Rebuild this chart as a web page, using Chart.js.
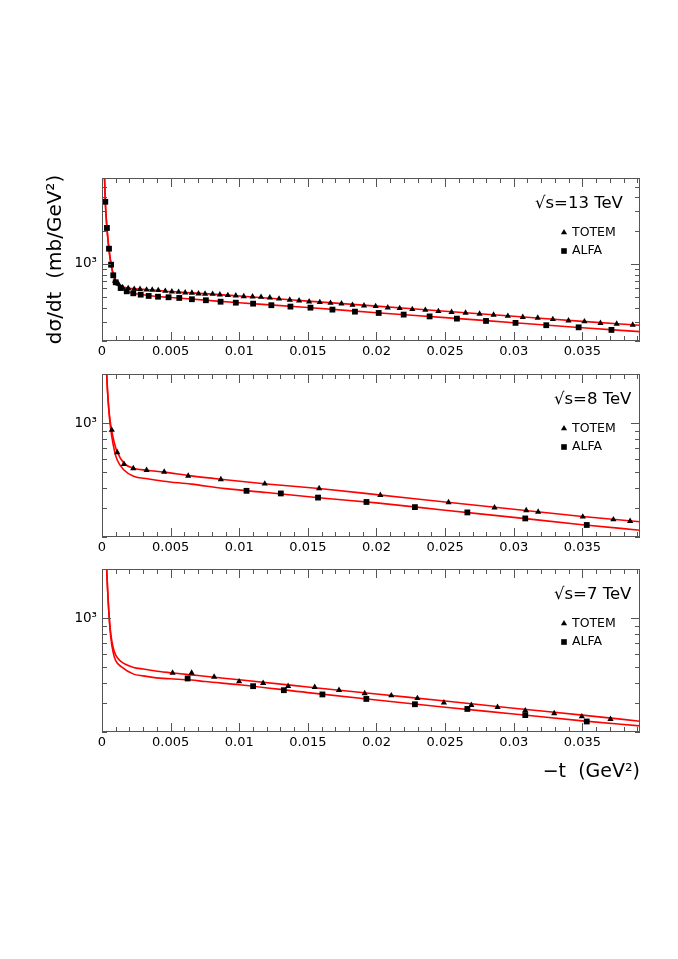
<!DOCTYPE html>
<html>
<head>
<meta charset="utf-8">
<script src="https://cdn.jsdelivr.net/npm/chart.js@4.4.1/dist/chart.umd.min.js"></script>
<style>
  body { margin: 0; background: #fff; }
  #page { position: relative; width: 678px; height: 959px; background: #fff; }
  canvas { position: absolute; left: 0; }
</style>
</head>
<body>
<div id="page">
  <canvas id="c13" width="678" height="222" style="top:150px"></canvas>
  <canvas id="c8" width="678" height="218" style="top:350px"></canvas>
  <canvas id="c7" width="678" height="255" style="top:545px"></canvas>
</div>
<script>
// axis ticks
const xMajorTicks = [0, 0.005, 0.01, 0.015, 0.02, 0.025, 0.03, 0.035];
const xTickLabels = ['0', '0.005', '0.01', '0.015', '0.02', '0.025', '0.03', '0.035'];
const yLogTicks = [200, 300, 400, 500, 600, 700, 800, 900, 1000, 2000, 3000, 4000, 5000, 6000];

// sqrt(s) = 13 TeV
const tTotem13 = [0.00095, 0.0012, 0.00148, 0.00191, 0.00235, 0.00277, 0.00325, 0.00366, 0.0041, 0.00461,
  0.00509, 0.00558, 0.00606, 0.00655, 0.00703, 0.00751, 0.00806, 0.00859, 0.00917, 0.00975,
  0.01033, 0.01097, 0.01159, 0.01223, 0.0129, 0.01368, 0.01436, 0.01509, 0.01587, 0.01665,
  0.01745, 0.01825, 0.01909, 0.01994, 0.02082, 0.02169, 0.02261, 0.02356, 0.02451, 0.02547,
  0.02649, 0.02751, 0.02853, 0.02957, 0.03066, 0.03175, 0.03285, 0.03399, 0.03515, 0.03632,
  0.0375, 0.03867];
const dsTotem13 = [699, 657, 613, 601, 592, 590, 583, 580, 576, 567,
  560, 556, 548, 545, 537, 535, 533, 526, 519, 515,
  508, 504, 501, 494, 483, 471, 464, 454, 449, 442,
  436, 424, 418, 413, 401, 396, 388, 382, 372, 365,
  359, 352, 345, 337, 329, 324, 315, 306, 300, 290,
  286, 280];
const tAlfa13 = [0.00024, 0.00036, 0.00051, 0.00066, 0.00082, 0.001, 0.00136, 0.0018, 0.00228, 0.00282,
  0.0034, 0.00408, 0.00485, 0.00563, 0.00655, 0.00757, 0.00864, 0.00975, 0.01101, 0.01234,
  0.01373, 0.01519, 0.01679, 0.01843, 0.02016, 0.02198, 0.02387, 0.02586, 0.02798, 0.03013,
  0.03237, 0.03473, 0.03712];
const dsAlfa13 = [3655, 2116, 1373, 983, 788, 681, 604, 564, 541, 526,
  512, 504, 498, 491, 478, 468, 454, 445, 436, 422,
  410, 401, 385, 369, 359, 347, 334, 319, 304, 292,
  278, 266, 252];
const tFit13 = [0.00015, 0.00018, 0.00024, 0.00036, 0.0005, 0.00066, 0.00082, 0.001, 0.0013, 0.0017,
  0.0022, 0.003, 0.004, 0.005, 0.0075, 0.01, 0.0125, 0.015, 0.02, 0.025, 0.03, 0.035, 0.0392];
const fitTotem13 = [9000, 6300, 3660, 2130, 1390, 1000, 815, 705, 638, 610,
  597, 587, 576, 561, 537, 511, 485, 460, 414, 372, 335, 301, 278];
const fitAlfa13 = [9000, 6300, 3655, 2116, 1375, 985, 790, 682, 608, 571,
  545, 525, 507, 496, 469, 444, 423, 402, 361, 326, 293, 264, 243];

// sqrt(s) = 8 TeV
const tTotem8 = [0.00071, 0.00111, 0.0016, 0.00228, 0.00325, 0.00453, 0.00628, 0.00866, 0.01186, 0.01582,
  0.02028, 0.02525, 0.0286, 0.03091, 0.03178, 0.03503, 0.03726, 0.03848];
const dsTotem8 = [906, 661, 560, 527, 514, 502, 474, 451, 424, 397,
  361, 326, 303, 291, 285, 266, 256, 250];
const tAlfa8 = [0.01053, 0.01303, 0.01574, 0.01927, 0.0228, 0.02662, 0.03084, 0.03532];
const dsAlfa8 = [384, 370, 349, 328, 305, 283, 260, 237];
const tFit8 = [0.0003, 0.00034, 0.0004, 0.0005, 0.0006, 0.0007, 0.0009, 0.0011, 0.0016, 0.0023,
  0.0033, 0.0045, 0.0065, 0.009, 0.012, 0.016, 0.02, 0.025, 0.03, 0.035, 0.0392];
const fitTotem8 = [2400, 2000, 1600, 1220, 1020, 905, 755, 668, 568, 528,
  513, 500, 474, 449, 423, 395, 364, 328, 296, 267, 248];
const fitAlfa8 = [2400, 2000, 1580, 1190, 970, 840, 680, 595, 515, 472,
  455, 440, 422, 396, 375, 347, 324, 292, 264, 238, 220];

// sqrt(s) = 7 TeV
const tTotem7 = [0.00514, 0.00653, 0.00817, 0.00999, 0.01174, 0.01356, 0.0155, 0.01727, 0.01914, 0.02108,
  0.02298, 0.02491, 0.02691, 0.02882, 0.03084, 0.03295, 0.03496, 0.03705];
const dsTotem7 = [461, 461, 436, 408, 399, 382, 377, 361, 345, 335,
  322, 303, 292, 284, 271, 260, 249, 240];
const tAlfa7 = [0.00624, 0.01101, 0.01325, 0.01606, 0.01926, 0.0228, 0.02662, 0.03084, 0.03532];
const dsAlfa7 = [426, 382, 361, 340, 319, 296, 277, 254, 232];
const tFit7 = [0.0003, 0.00034, 0.0004, 0.00053, 0.00065, 0.00082, 0.001, 0.0014, 0.0023, 0.003,
  0.0042, 0.005, 0.0065, 0.0075, 0.01, 0.015, 0.02, 0.025, 0.03, 0.035, 0.0392];
const fitTotem7 = [2500, 2000, 1550, 1000, 790, 655, 592, 540, 498, 487,
  470, 462, 448, 440, 418, 378, 342, 310, 280, 254, 233];
const fitAlfa7 = [2500, 2000, 1540, 985, 750, 612, 548, 503, 453, 442,
  428, 424, 417, 408, 390, 349, 314, 284, 258, 234, 218];

Chart.defaults.font.family = '"DejaVu Sans", sans-serif';
Chart.defaults.color = '#000';

const FRAME = '#555';

function pts(xs, ys) {
  return xs.map((x, i) => ({x: x, y: ys[i]}));
}

function isMajorX(v) {
  return xMajorTicks.some(m => Math.abs(m - v) < 1e-9);
}

// ROOT style frame: ticks pointing inward on all four sides
const frameTicks = {
  id: 'frameTicks',
  afterDraw(chart) {
    const {ctx, chartArea: a} = chart;
    const x = chart.scales.x, y = chart.scales.y;
    ctx.save();
    ctx.strokeStyle = FRAME;
    ctx.lineWidth = 1;
    ctx.beginPath();
    x.ticks.forEach(t => {
      const px = Math.round(x.getPixelForValue(t.value)) + 0.5;
      const len = isMajorX(t.value) ? 9 : 5;
      ctx.moveTo(px, a.bottom); ctx.lineTo(px, a.bottom - len);
      ctx.moveTo(px, a.top); ctx.lineTo(px, a.top + len);
    });
    y.ticks.forEach(t => {
      const py = Math.round(y.getPixelForValue(t.value)) + 0.5;
      const len = t.value === 1000 ? 9 : 5;
      ctx.moveTo(a.left, py); ctx.lineTo(a.left + len, py);
      ctx.moveTo(a.right, py); ctx.lineTo(a.right - len, py);
    });
    ctx.stroke();
    ctx.strokeRect(a.left + 0.5, a.top + 0.5, a.width - 1, a.height - 1);
    ctx.restore();
  }
};

const panelLegend = {
  id: 'panelLegend',
  afterDraw(chart, args, opts) {
    const {ctx, chartArea: a} = chart;
    ctx.save();
    ctx.fillStyle = '#000';
    ctx.textBaseline = 'middle';
    ctx.textAlign = 'left';
    ctx.font = '16.5px "DejaVu Sans"';
    ctx.fillText(opts.energy, opts.energyX, a.top + 26);

    const mx = a.right - 76;
    const ty = a.top + 54.5, sy = a.top + 73;
    ctx.beginPath();
    ctx.moveTo(mx, ty - 3.6);
    ctx.lineTo(mx + 3.1, ty + 1.8);
    ctx.lineTo(mx - 3.1, ty + 1.8);
    ctx.closePath();
    ctx.fill();
    ctx.fillRect(mx - 2.8, sy - 2.8, 5.6, 5.6);

    ctx.font = '12.5px "DejaVu Sans"';
    ctx.fillText('TOTEM', a.right - 68, ty);
    ctx.fillText('ALFA', a.right - 68, sy);
    ctx.restore();
  }
};

function makePanel(id, p) {
  return new Chart(document.getElementById(id), {
    type: 'scatter',
    data: {
      datasets: [
        {
          label: 'TOTEM', data: pts(p.tTotem, p.dsTotem), order: 0,
          pointStyle: 'triangle', pointRadius: 3.6, pointBorderWidth: 0,
          backgroundColor: '#000', borderColor: '#000'
        },
        {
          label: 'ALFA', data: pts(p.tAlfa, p.dsAlfa), order: 0,
          pointStyle: 'rect', pointRadius: 4.1, pointBorderWidth: 0,
          backgroundColor: '#000', borderColor: '#000'
        },
        {
          label: 'fit TOTEM', data: pts(p.tFit, p.fitTotem), order: 1,
          showLine: true, pointRadius: 0, borderColor: '#ff0000', borderWidth: 1.6,
          cubicInterpolationMode: 'monotone', fill: false
        },
        {
          label: 'fit ALFA', data: pts(p.tFit, p.fitAlfa), order: 1,
          showLine: true, pointRadius: 0, borderColor: '#ff0000', borderWidth: 1.6,
          cubicInterpolationMode: 'monotone', fill: false
        }
      ]
    },
    options: {
      responsive: false,
      animation: false,
      events: [],
      layout: {padding: {left: 0, right: 38, top: p.padTop, bottom: 0}},
      plugins: {
        legend: {display: false},
        tooltip: {enabled: false},
        panelLegend: {energy: p.energy, energyX: p.energyX}
      },
      scales: {
        x: {
          type: 'linear', min: 0, max: 0.0392,
          grid: {display: false, drawTicks: false},
          border: {display: false},
          afterBuildTicks: (scale) => {
            const ticks = [];
            for (let i = 0; i <= 39; i++) ticks.push({value: i / 1000});
            scale.ticks = ticks;
          },
          afterFit: (scale) => { scale.height = p.xHeight; },
          ticks: {
            autoSkip: false, maxRotation: 0, padding: 3,
            font: {size: 13}, color: '#000',
            callback: (v) => {
              const i = xMajorTicks.findIndex(m => Math.abs(m - v) < 1e-9);
              return i >= 0 ? xTickLabels[i] : '';
            }
          },
          title: p.xTitle ? {
            display: true, text: '\u2212t  (GeV\u00b2)', align: 'end', color: '#000',
            font: {size: 19}, padding: {top: 0, bottom: 16.5}
          } : {display: false}
        },
        y: {
          type: 'logarithmic', min: 200, max: p.yMax,
          grid: {display: false, drawTicks: false},
          border: {display: false},
          afterBuildTicks: (scale) => {
            scale.ticks = yLogTicks.filter(v => v <= p.yMax).map(v => ({value: v}));
          },
          afterFit: (scale) => { scale.width = 102; },
          ticks: {
            autoSkip: false, padding: 5, font: {size: 13.5}, color: '#000',
            callback: (v) => (v === 1000 ? '10\u00b3' : '')
          },
          title: p.yTitle ? {
            display: true, text: 'd\u03c3/dt  (mb/GeV\u00b2)', color: '#000',
            font: {size: 20}, padding: {top: 44, bottom: 0}
          } : {display: false}
        }
      }
    },
    plugins: [frameTicks, panelLegend]
  });
}

makePanel('c13', {
  tTotem: tTotem13, dsTotem: dsTotem13, tAlfa: tAlfa13, dsAlfa: dsAlfa13,
  tFit: tFit13, fitTotem: fitTotem13, fitAlfa: fitAlfa13,
  energy: '\u221as=13 TeV', energyX: 535, yMax: 6000,
  padTop: 28, xHeight: 31, yTitle: true, xTitle: false
});
makePanel('c8', {
  tTotem: tTotem8, dsTotem: dsTotem8, tAlfa: tAlfa8, dsAlfa: dsAlfa8,
  tFit: tFit8, fitTotem: fitTotem8, fitAlfa: fitAlfa8,
  energy: '\u221as=8 TeV', energyX: 554, yMax: 2000,
  padTop: 24, xHeight: 31, yTitle: false, xTitle: false
});
makePanel('c7', {
  tTotem: tTotem7, dsTotem: dsTotem7, tAlfa: tAlfa7, dsAlfa: dsAlfa7,
  tFit: tFit7, fitTotem: fitTotem7, fitAlfa: fitAlfa7,
  energy: '\u221as=7 TeV', energyX: 554, yMax: 2000,
  padTop: 24, xHeight: 68, yTitle: false, xTitle: true
});
</script>
</body>
</html>
